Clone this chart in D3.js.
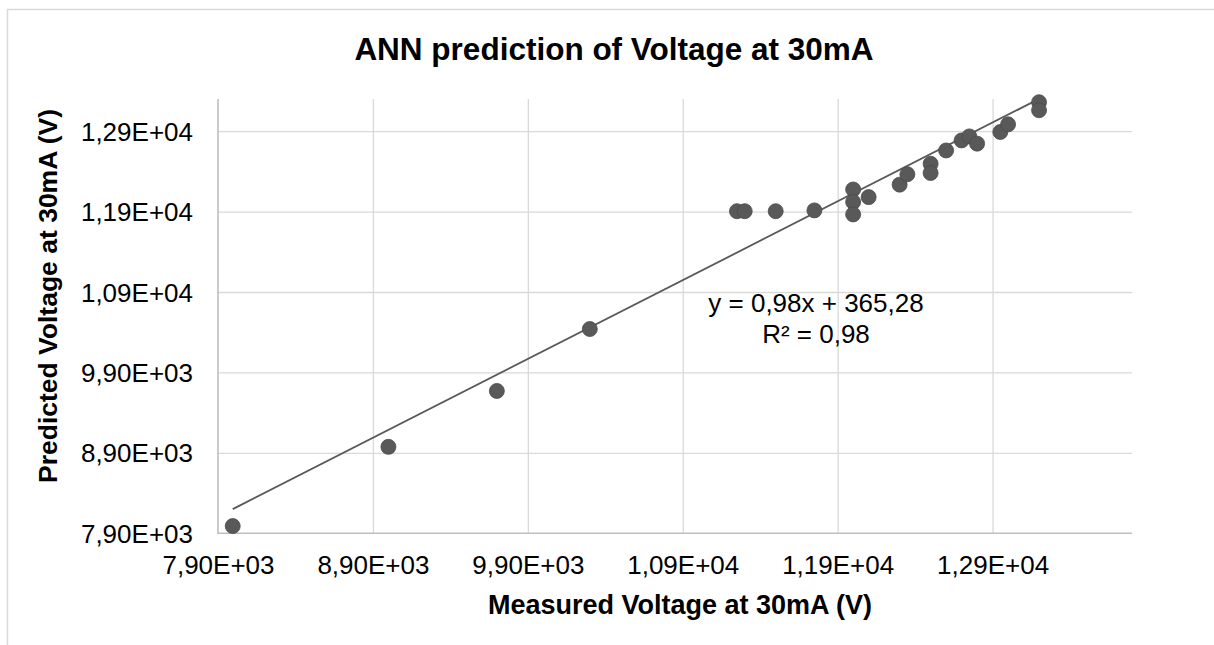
<!DOCTYPE html>
<meta charset="utf-8">
<style>
body { margin: 0; background: #fff; }
text { font-family: "Liberation Sans", Arial, sans-serif; fill: #000; }
.grid line { stroke: #d9d9d9; stroke-width: 1.3; }
.grid path { display: none; }
.axis path, .axis line { display: none; }
.dot { fill: #595959; stroke: #4a4a4a; stroke-width: 0.8; }
.trend { fill: none; stroke: #595959; stroke-width: 1.8; }
</style>
<body>
<script src="https://d3js.org/d3.v7.min.js"></script>
<script>
var width = 1214,
    height = 645;

// measured (x) vs predicted (y) voltage
var measured = [7995, 9000, 9700, 10300, 11250, 11300, 11500, 11750, 12000, 12000, 12000, 12100,
                12300, 12350, 12500, 12500, 12600, 12700, 12750, 12800, 12950, 13000, 13200, 13200];
var predicted = [7990, 8975, 9670, 10440, 11905, 11905, 11905, 11915, 12175, 12020, 11865, 12080,
                 12235, 12365, 12495, 12380, 12660, 12785, 12835, 12745, 12890, 12985, 13260, 13160];

// linear trendline as printed on the chart
var slope = 0.98,
    intercept = 365.28;
var equationLines = ["y = 0,98x + 365,28", "R² = 0,98"];

var tickValues = [7900, 8900, 9900, 10900, 11900, 12900];

var margin = {left: 218, right: 1132, top: 99, bottom: 533.3};

var x = d3.scaleLinear().domain([7900, 13800]).range([margin.left, margin.right]);
var y = d3.scaleLinear().domain([7900, 13300]).range([margin.bottom, margin.top]);

// Excel style: 7,90E+03
function sci(v) {
  var e = Math.floor(Math.log10(v));
  var m = v / Math.pow(10, e);
  return m.toFixed(2).replace(".", ",") + "E+" + (e < 10 ? "0" + e : e);
}

var svg = d3.select("body").append("svg")
    .attr("width", width)
    .attr("height", height);

// chart frame (only top and left edges show)
svg.append("path")
    .attr("d", "M7.5," + height + "V9.5H" + width)
    .attr("fill", "none")
    .attr("stroke", "#d9d9d9")
    .attr("stroke-width", 1.5);

svg.append("g")
    .attr("class", "grid")
    .attr("transform", "translate(0," + margin.bottom + ")")
    .call(d3.axisBottom(x).tickValues(tickValues.slice(1)).tickSize(-(margin.bottom - margin.top)).tickFormat(""));

svg.append("g")
    .attr("class", "grid")
    .attr("transform", "translate(" + margin.left + ",0)")
    .call(d3.axisLeft(y).tickValues(tickValues.slice(1)).tickSize(-(margin.right - margin.left)).tickFormat(""));

// axis lines
svg.append("path")
    .attr("d", "M" + margin.left + "," + margin.top + "V" + margin.bottom + "H" + margin.right)
    .attr("fill", "none")
    .attr("stroke", "#bfbfbf")
    .attr("stroke-width", 1.6);

var xAxis = svg.append("g")
    .attr("class", "axis")
    .attr("transform", "translate(0," + margin.bottom + ")")
    .call(d3.axisBottom(x).tickValues(tickValues).tickSize(0).tickPadding(0).tickFormat(sci));
xAxis.selectAll("text")
    .attr("dy", null)
    .attr("y", 41)
    .style("font-size", "26px");

var yAxis = svg.append("g")
    .attr("class", "axis")
    .attr("transform", "translate(" + margin.left + ",0)")
    .call(d3.axisLeft(y).tickValues(tickValues).tickSize(0).tickPadding(25).tickFormat(sci));
yAxis.selectAll("text")
    .attr("dy", "0.35em")
    .style("font-size", "26px");

svg.append("clipPath")
    .attr("id", "plot")
  .append("rect")
    .attr("x", margin.left)
    .attr("y", margin.top)
    .attr("width", margin.right - margin.left)
    .attr("height", margin.bottom - margin.top);

var xExtent = d3.extent(measured);
var line = d3.line()
    .x(function(d) { return x(d); })
    .y(function(d) { return y(slope * d + intercept); });

svg.append("path")
    .datum(xExtent)
    .attr("class", "trend")
    .attr("clip-path", "url(#plot)")
    .attr("d", line);

svg.append("g")
    .selectAll("circle")
    .data(measured)
    .enter()
    .append("circle")
    .attr("class", "dot")
    .attr("cx", function(d) { return x(d); })
    .attr("cy", function(d, i) { return y(predicted[i]); })
    .attr("r", 7.5);

svg.append("g")
    .selectAll("text")
    .data(equationLines)
    .enter()
    .append("text")
    .attr("x", 816)
    .attr("y", function(d, i) { return 311.5 + i * 31; })
    .attr("text-anchor", "middle")
    .style("font-size", "26px")
    .text(function(d) { return d; });

svg.append("text")
    .attr("x", 614)
    .attr("y", 60)
    .attr("text-anchor", "middle")
    .style("font-size", "31.5px")
    .style("font-weight", "bold")
    .text("ANN prediction of Voltage at 30mA");

svg.append("text")
    .attr("x", 680)
    .attr("y", 614)
    .attr("text-anchor", "middle")
    .style("font-size", "27px")
    .style("font-weight", "bold")
    .text("Measured Voltage at 30mA (V)");

svg.append("text")
    .attr("transform", "translate(57,296) rotate(-90)")
    .attr("text-anchor", "middle")
    .style("font-size", "26.5px")
    .style("font-weight", "bold")
    .text("Predicted Voltage at 30mA (V)");
</script>
</body>
